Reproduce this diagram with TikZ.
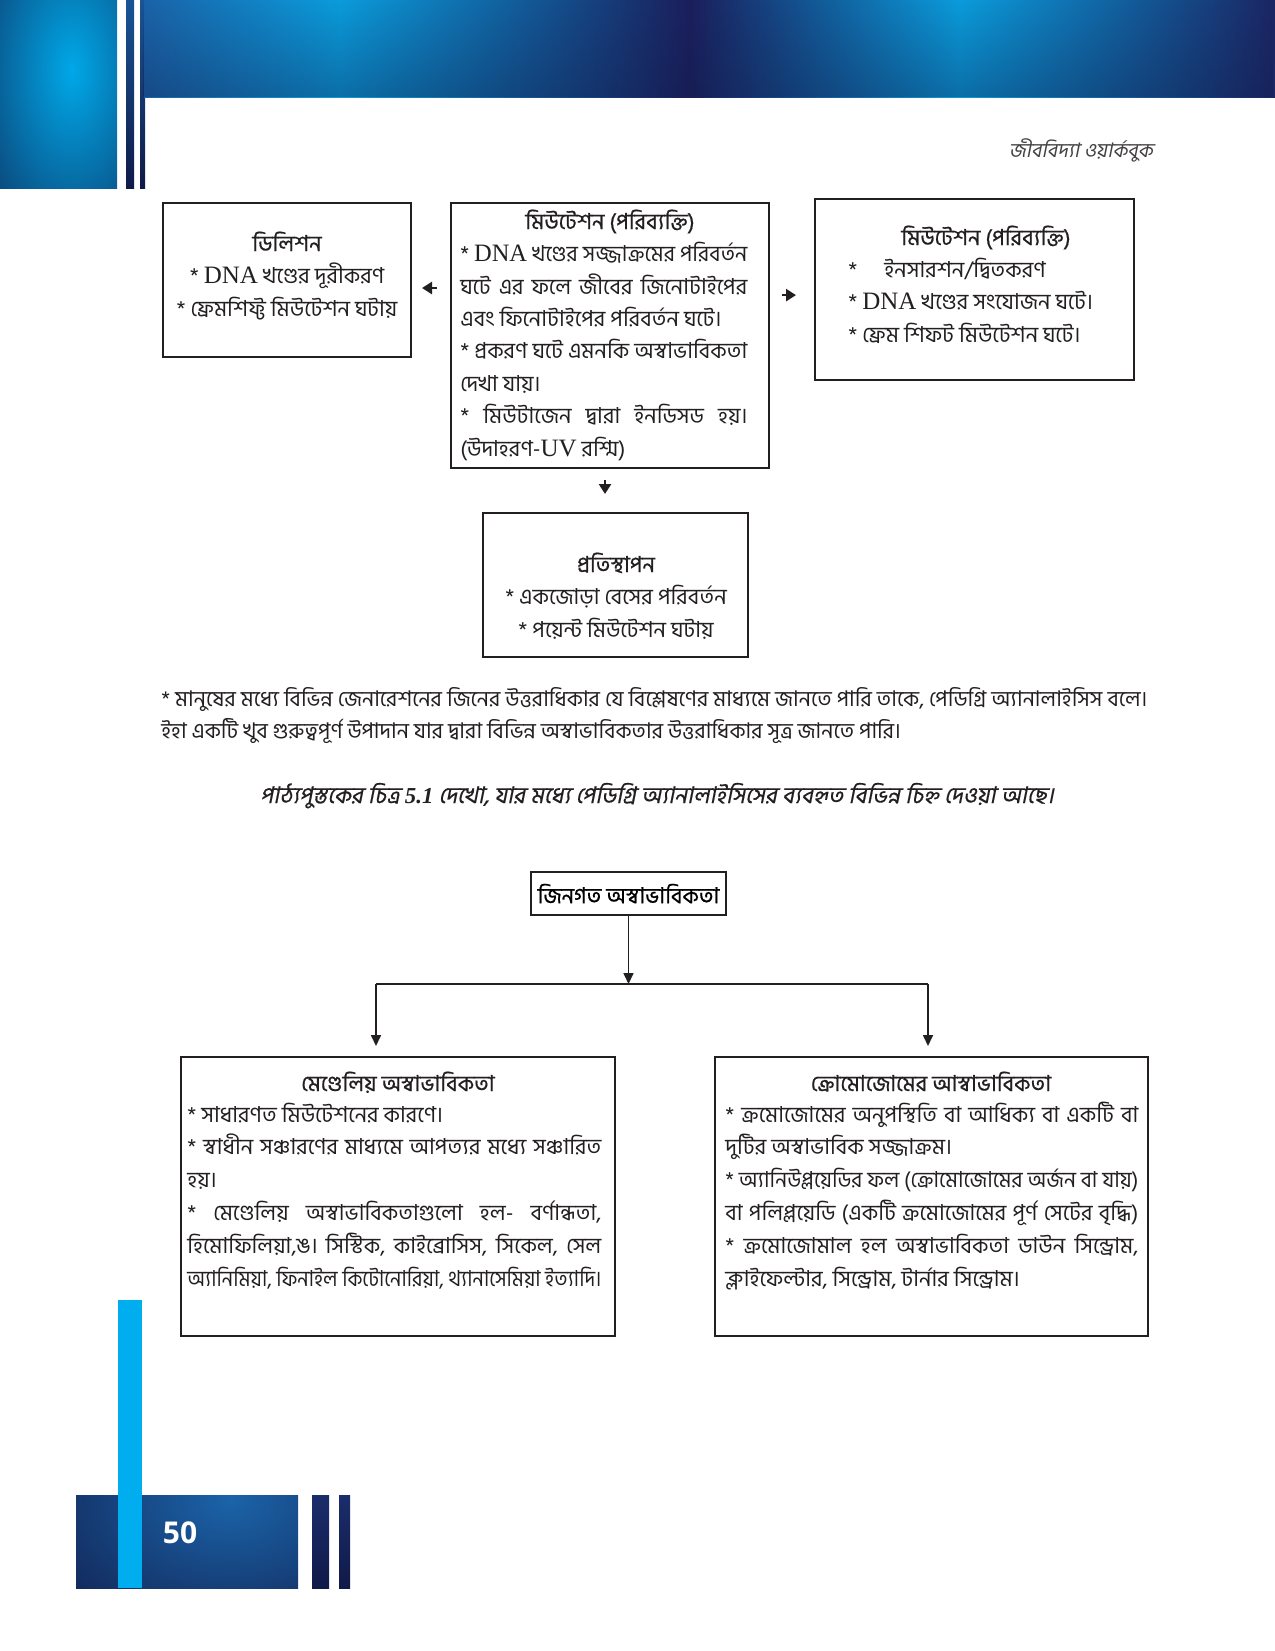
\documentclass[tikz,border=0pt]{standalone}
\usepackage{fontspec}
\usepackage{graphicx}
\usetikzlibrary{arrows.meta,fadings,fit}
\newfontfamily\bn[Script=Bengali]{Hind Siliguri}
\newfontfamily\bnb[Script=Bengali,FakeBold=0.6]{Hind Siliguri}
\newfontfamily\bni[Script=Bengali,FakeSlant=0.2]{Hind Siliguri}
\newfontfamily\bnib[Script=Bengali,FakeSlant=0.2,FakeBold=0.5]{Hind Siliguri}
\newfontfamily\lat{Liberation Serif}
\newfontfamily\pgnum{Open Sans}
\newsavebox\jlbox
\newcommand\jl[2]{\sbox\jlbox{#2}\ifdim\wd\jlbox>#1\relax\resizebox{#1}{\height}{\usebox\jlbox}\else\makebox[#1][s]{#2}\fi}
\newcommand\dna[1]{{\lat\fontsize{12.5}{16}\selectfont #1}}
\definecolor{navyA}{HTML}{101A48}
\definecolor{navyB}{HTML}{1B1F5C}
\definecolor{midA}{HTML}{1B63A8}
\definecolor{lightA}{HTML}{0A9CDB}
\definecolor{cyanA}{HTML}{00A8E8}
\definecolor{cyanbar}{HTML}{00AEEF}
\definecolor{ink}{HTML}{231F20}
\begin{document}
\begin{tikzpicture}[x=0.5pt,y=-0.5pt,
  box/.style={draw=ink, line width=1pt, inner sep=0pt},
  txt/.style={font=\bn\fontsize{11}{16.2}\selectfont, inner sep=0pt, align=left, text=ink},
  ltxt/.style={txt, font=\bn\fontsize{11}{16.4}\selectfont},
  ctxt/.style={txt, align=center},
  ttl/.style={font=\bnb\fontsize{11}{16.2}\selectfont, inner sep=0pt, text=ink},
  sarr/.style={-{Triangle[length=5pt,width=6pt]}, line width=1.3pt, draw=ink},
  tarr/.style={-{Triangle[length=5.5pt,width=5pt]}, line width=0.8pt, draw=ink}]
\useasboundingbox (0,0) rectangle (1275,1651);
\fill[white] (0,0) rectangle (1275,1651);

% ---------- header decoration ----------
\fill[navyA] (0,0) rectangle (117,188);
\begin{scope}
  \clip (0,0) rectangle (117,188);
  \shade[inner color=cyanA, outer color=navyA] (72,70) ellipse (150 and 270);
\end{scope}
\shade[top color=midA!80!navyA, bottom color=navyA] (126,0) rectangle (134,188);
\shade[top color=midA!80!navyA, bottom color=navyA] (140,0) rectangle (145,188);
\shade[left color=midA, right color=lightA] (144,0) rectangle (340,97);
\shade[left color=lightA, right color=navyB] (339,0) rectangle (690,97);
\shade[left color=navyB, right color=lightA] (689,0) rectangle (960,97);
\shade[left color=lightA, right color=navyB!90!midA] (959,0) rectangle (1275,97);
\fill[navyA, path fading=north, fill opacity=0.35] (144,0) rectangle (1275,97);

\node[font=\bni\fontsize{10}{12}\selectfont, text=ink!85, anchor=base] (runhead) at (1081,157) {জীববিদ্যা ওয়ার্কবুক};

% ---------- footer decoration ----------
\fill[navyA] (76,1495) rectangle (298,1588);
\begin{scope}
  \clip (76,1495) rectangle (298,1588);
  \shade[inner color=midA, outer color=navyA] (230,1500) ellipse (260 and 180);
\end{scope}
\shade[top color=navyB!80!midA, bottom color=navyA] (312,1495) rectangle (329,1588);
\shade[top color=navyB!80!midA, bottom color=navyA] (339,1495) rectangle (350,1588);
\fill[cyanbar] (118,1300) rectangle (142,1588);
\node[font=\pgnum\bfseries\fontsize{15}{18}\selectfont, text=white] (pgno) at (180,1533) {50};

% ---------- upper diagram ----------
\node[box, fit={(163,203) (411,357)}] (del) {};
\node[box, fit={(451,203) (769,468)}] (mut) {};
\node[box, fit={(815,199) (1134,380)}] (ins) {};
\node[box, fit={(483,513) (748,657)}] (sub) {};

\node[ttl, anchor=base] (delt) at (287,251) {ডিলিশন};
\node[ctxt, anchor=base] (delb) at (287,316) {* \dna{DNA} খণ্ডের দূরীকরণ\\ * ফ্রেমশিফ্ট মিউটেশন ঘটায়};

\node[ttl, anchor=base] (mutt) at (610,229) {মিউটেশন (পরিব্যক্তি)};
\node[txt, anchor=base west] (mutb) at (460,456) {\jl{143.5pt}{* \dna{DNA} খণ্ডের সজ্জাক্রমের পরিবর্তন}\\
\jl{143.5pt}{ঘটে এর ফলে জীবের জিনোটাইপের}\\
এবং ফিনোটাইপের পরিবর্তন ঘটে।\\
\jl{143.5pt}{* প্রকরণ ঘটে এমনকি অস্বাভাবিকতা}\\
দেখা যায়।\\
\jl{143.5pt}{* মিউটাজেন দ্বারা ইনডিসড হয়।}\\
(উদাহরণ-\dna{UV} রশ্মি)};

\node[ttl, anchor=base] (inst) at (986,245) {মিউটেশন (পরিব্যক্তি)};
\node[txt, anchor=base west] (insb) at (848,342) {*\quad\ ইনসারশন/দ্বিতকরণ\\
* \dna{DNA} খণ্ডের সংযোজন ঘটে।\\
* ফ্রেম শিফট মিউটেশন ঘটে।};

\node[ttl, anchor=base] (subt) at (616,572) {প্রতিস্থাপন};
\node[ctxt, anchor=base] (subb) at (616,637) {* একজোড়া বেসের পরিবর্তন\\ * পয়েন্ট মিউটেশন ঘটায়};

\draw[sarr, shorten <=6.5pt, shorten >=5pt] ([yshift=-4pt]mut.west |- del.east) -- ([yshift=-4pt]del.east);
\draw[sarr, shorten <=6pt, shorten >=9pt] ([yshift=-2.8pt]mut.east |- ins.west) -- ([yshift=-2.8pt]ins.west);
\draw[sarr, shorten <=5.5pt, shorten >=9pt] ([xshift=-2.5pt]mut.south) -- ([xshift=-2.5pt]mut.south |- sub.north);

% ---------- paragraph ----------
\node[txt, font=\bn\fontsize{10.8}{16}\selectfont, anchor=base west] (para) at (161,738) {\jl{493pt}{* মানুষের মধ্যে বিভিন্ন জেনারেশনের জিনের উত্তরাধিকার যে বিশ্লেষণের মাধ্যমে জানতে পারি তাকে, পেডিগ্রি অ্যানালাইসিস বলে।}\\
ইহা একটি খুব গুরুত্বপূর্ণ উপাদান যার দ্বারা বিভিন্ন অস্বাভাবিকতার উত্তরাধিকার সূত্র জানতে পারি।};
\node[font=\bnib\fontsize{11.4}{16}\selectfont, text=ink, anchor=base, inner sep=0pt] (capt) at (657,803) {পাঠ্যপুস্তকের চিত্র {\lat\itshape\bfseries 5.1} দেখো, যার মধ্যে পেডিগ্রি অ্যানালাইসিসের ব্যবহৃত বিভিন্ন চিহ্ন দেওয়া আছে।};

% ---------- lower diagram ----------
\node[box, font=\bnb\fontsize{11}{14}\selectfont, minimum width=97.5pt, minimum height=21.5pt] (gen) at (628.5,893.5) {জিনগত অস্বাভাবিকতা};
\node[box, fit={(181,1057) (615,1336)}] (men) {};
\node[box, fit={(715,1057) (1148,1336)}] (chr) {};
\coordinate (jn) at (628.5,984);
\coordinate (hl) at (376,984);
\coordinate (hr) at (928,984);
\draw[tarr] (gen.south) -- (jn);
\draw[line width=0.8pt, draw=ink] (hl) -- (hr);
\draw[tarr, shorten >=5pt] (hl) -- (hl |- men.north);
\draw[tarr, shorten >=5pt] (hr) -- (hr |- chr.north);

\node[ttl, anchor=base] (ment) at (398,1091) {মেণ্ডেলিয় অস্বাভাবিকতা};
\node[ltxt, anchor=base west] (menb) at (187,1286) {* সাধারণত মিউটেশনের কারণে।\\
\jl{207pt}{* স্বাধীন সঞ্চারণের মাধ্যমে আপত্যর মধ্যে সঞ্চারিত}\\
হয়।\\
\jl{207pt}{* মেণ্ডেলিয় অস্বাভাবিকতাগুলো হল- বর্ণান্ধতা,}\\
\jl{207pt}{হিমোফিলিয়া,ঙ। সিস্টিক, কাইব্রোসিস, সিকেল, সেল}\\
\jl{207pt}{অ্যানিমিয়া, ফিনাইল কিটোনোরিয়া, থ্যানাসেমিয়া ইত্যাদি।}};

\node[ttl, anchor=base] (chrt) at (931,1091) {ক্রোমোজোমের আস্বাভাবিকতা};
\node[ltxt, anchor=base west] (chrb) at (725,1286) {\jl{206.5pt}{* ক্রমোজোমের অনুপস্থিতি বা আধিক্য বা একটি বা}\\
দুটির অস্বাভাবিক সজ্জাক্রম।\\
\jl{206.5pt}{* অ্যানিউপ্লয়েডির ফল (ক্রোমোজোমের অর্জন বা যায়)}\\
\jl{206.5pt}{বা পলিপ্লয়েডি (একটি ক্রমোজোমের পূর্ণ সেটের বৃদ্ধি)}\\
\jl{206.5pt}{* ক্রমোজোমাল হল অস্বাভাবিকতা ডাউন সিন্ড্রোম,}\\
ক্লাইফেল্টার, সিন্ড্রোম, টার্নার সিন্ড্রোম।};
\end{tikzpicture}
\end{document}
